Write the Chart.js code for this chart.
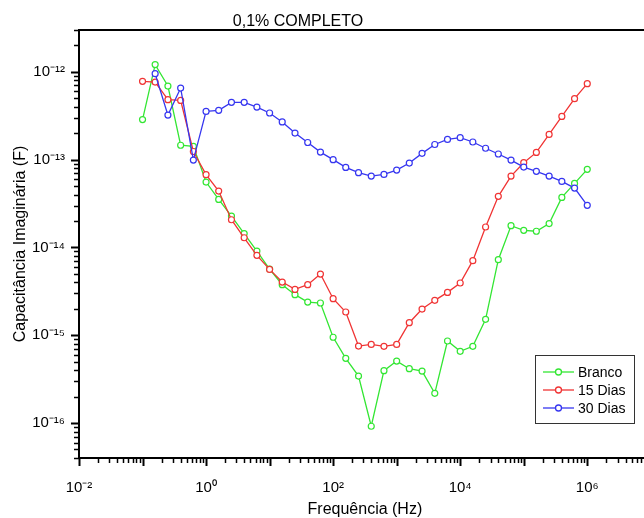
<!DOCTYPE html>
<html>
<head>
<meta charset="utf-8">
<script src="https://cdn.jsdelivr.net/npm/chart.js@4.4.0/dist/chart.umd.min.js"></script>
<style>
    html, body { margin: 0; padding: 0; background: #fff; overflow: hidden; }
    #wrap { width: 656px; height: 518px; }
</style>
</head>
<body>
<div id="wrap"><canvas id="capChart" width="656" height="518"></canvas></div>
<script>
// frequencies (Hz), 5 points per decade
const freqs = [0.1, 0.158, 0.251, 0.398, 0.631,
    1, 1.58, 2.51, 3.98, 6.31,
    10, 15.8, 25.1, 39.8, 63.1,
    100, 158, 251, 398, 631,
    1000, 1580, 2510, 3980, 6310,
    10000, 15800, 25100, 39800, 63100,
    100000, 158000, 251000, 398000, 631000,
    1000000];

const branco = [2.86e-13, 1.21e-12, 6.9e-13, 1.46e-13, 1.42e-13,
    5.56e-14, 3.53e-14, 2.28e-14, 1.44e-14, 9.1e-15,
    5.68e-15, 3.77e-15, 2.9e-15, 2.39e-15, 2.33e-15,
    9.5e-16, 5.46e-16, 3.43e-16, 9.2e-17, 3.95e-16,
    5.08e-16, 4.16e-16, 3.91e-16, 2.18e-16, 8.6e-16,
    6.56e-16, 7.48e-16, 1.52e-15, 7.26e-15, 1.77e-14,
    1.57e-14, 1.53e-14, 1.87e-14, 3.72e-14, 5.37e-14,
    7.76e-14];

const dias15 = [7.8e-13, 7.66e-13, 4.82e-13, 4.73e-13, 1.24e-13,
    6.75e-14, 4.39e-14, 2.07e-14, 1.29e-14, 8.13e-15,
    5.63e-15, 4.04e-15, 3.33e-15, 3.77e-15, 4.98e-15,
    2.61e-15, 1.84e-15, 7.53e-16, 7.87e-16, 7.48e-16,
    7.87e-16, 1.39e-15, 1.99e-15, 2.5e-15, 3.08e-15,
    3.94e-15, 7.08e-15, 1.71e-14, 3.82e-14, 6.5e-14,
    9.24e-14, 1.21e-13, 1.94e-13, 3.11e-13, 4.95e-13,
    7.35e-13];

const dias30 = [null, 9.53e-13, 3.22e-13, 6.54e-13, 9.9e-14,
    3.55e-13, 3.65e-13, 4.5e-13, 4.5e-13, 3.97e-13,
    3.4e-13, 2.69e-13, 2.01e-13, 1.57e-13, 1.22e-13,
    1.0e-13, 8.17e-14, 7.11e-14, 6.5e-14, 6.8e-14,
    7.62e-14, 9.16e-14, 1.18e-13, 1.49e-13, 1.7e-13,
    1.78e-13, 1.59e-13, 1.35e-13, 1.16e-13, 9.9e-14,
    8.24e-14, 7.36e-14, 6.5e-14, 5.66e-14, 4.75e-14,
    3.02e-14];

const seriesNames = ["Branco", "15 Dias", "30 Dias"];
const seriesColors = ["#33e633", "#f03434", "#3636f0"];

const xExponents = [-2, -1, 0, 1, 2, 3, 4, 5, 6, 7];
const yExponents = [-17, -16, -15, -14, -13, -12];

const FONT = "'Liberation Sans', Arial, sans-serif";
const SUP = { "-": "\u207B", "0": "\u2070", "1": "\u00B9", "2": "\u00B2", "3": "\u00B3", "4": "\u2074",
    "5": "\u2075", "6": "\u2076", "7": "\u2077", "8": "\u2078", "9": "\u2079" };

function powLabel(exp) {
    return "10" + String(exp).split("").map(c => SUP[c]).join("");
}

function decadeOf(v) {
    const e = Math.round(Math.log10(v));
    return Math.abs(v / Math.pow(10, e) - 1) < 1e-6 ? e : null;
}

// log ticks 1..9 for each decade, clipped to the axis range
function logTicks(exps, min, max) {
    const out = [];
    exps.forEach(e => {
        for (let m = 1; m <= 9; m++) {
            const v = m * Math.pow(10, e);
            if (v >= min * 0.999 && v <= max * 1.001) out.push({ value: v });
        }
    });
    return out;
}

function toPoints(values) {
    return values.map((v, i) => ({ x: freqs[i], y: v }));
}

const tickMarks = {
    id: "tickMarks",
    afterDraw(chart) {
        const ctx = chart.ctx;
        const area = chart.chartArea;
        const xs = chart.scales.x;
        const ys = chart.scales.y;
        ctx.save();
        ctx.strokeStyle = "#000";
        ctx.lineWidth = 2;
        ctx.beginPath();
        ctx.moveTo(area.left - 1, area.top);
        ctx.lineTo(area.right, area.top);
        ctx.stroke();

        xs.ticks.forEach(t => {
            const px = Math.round(xs.getPixelForValue(t.value)) + 0.5;
            const major = decadeOf(t.value) !== null;
            ctx.lineWidth = major ? 2 : 1.5;
            ctx.beginPath();
            ctx.moveTo(px, area.bottom);
            ctx.lineTo(px, area.bottom + (major ? 8 : 5));
            ctx.stroke();
        });
        ys.ticks.forEach(t => {
            const py = Math.round(ys.getPixelForValue(t.value)) + 0.5;
            const major = decadeOf(t.value) !== null;
            ctx.lineWidth = major ? 2 : 1.5;
            ctx.beginPath();
            ctx.moveTo(area.left, py);
            ctx.lineTo(area.left - (major ? 8 : 5), py);
            ctx.stroke();
        });
        ctx.restore();
    }
};

const titleAndLegend = {
    id: "titleAndLegend",
    afterDraw(chart) {
        const ctx = chart.ctx;
        ctx.save();
        ctx.fillStyle = "#000";
        ctx.font = "16px " + FONT;
        ctx.textAlign = "center";
        ctx.textBaseline = "alphabetic";
        ctx.fillText("0,1% COMPLETO", 298, 26);

        // legend box
        const bx = 535, by = 355, bw = 99, bh = 68;
        ctx.fillStyle = "#fff";
        ctx.fillRect(bx, by, bw, bh);
        ctx.strokeStyle = "#333";
        ctx.lineWidth = 1;
        ctx.strokeRect(bx + 0.5, by + 0.5, bw, bh);

        ctx.font = "14px " + FONT;
        ctx.textAlign = "left";
        ctx.textBaseline = "middle";
        seriesNames.forEach((name, i) => {
            const y = by + 17 + i * 18;
            ctx.strokeStyle = seriesColors[i];
            ctx.lineWidth = 1.3;
            ctx.beginPath();
            ctx.moveTo(bx + 8, y);
            ctx.lineTo(bx + 39, y);
            ctx.stroke();
            ctx.fillStyle = "#fff";
            ctx.beginPath();
            ctx.arc(bx + 23.5, y, 3, 0, Math.PI * 2);
            ctx.fill();
            ctx.stroke();
            ctx.fillStyle = "#000";
            ctx.fillText(name, bx + 43, y + 1);
        });
        ctx.restore();
    }
};

function makeDataset(label, values, color, order) {
    return {
        label: label,
        data: toPoints(values),
        borderColor: color,
        backgroundColor: color,
        borderWidth: 1.3,
        pointRadius: 3,
        pointBorderWidth: 1.2,
        pointBorderColor: color,
        pointBackgroundColor: "#fff",
        tension: 0,
        order: order
    };
}

const X_MIN = 0.01, X_MAX = 1e7;
const Y_MIN = 4e-17, Y_MAX = 3e-12;

new Chart(document.getElementById("capChart").getContext("2d"), {
    type: "line",
    data: {
        datasets: [
            makeDataset(seriesNames[0], branco, seriesColors[0], 2),
            makeDataset(seriesNames[1], dias15, seriesColors[1], 1),
            makeDataset(seriesNames[2], dias30, seriesColors[2], 0)
        ]
    },
    options: {
        responsive: false,
        animation: false,
        devicePixelRatio: 1,
        layout: { padding: { left: 0, right: 5, top: 30, bottom: 0 } },
        plugins: {
            legend: { display: false },
            tooltip: { enabled: false },
            title: { display: false }
        },
        scales: {
            x: {
                type: "logarithmic",
                min: X_MIN,
                max: X_MAX,
                afterBuildTicks: scale => { scale.ticks = logTicks(xExponents, X_MIN, X_MAX); },
                afterFit: scale => {
                    scale.height = 60;
                    scale.paddingLeft = 0;
                    scale.paddingRight = 0;
                },
                grid: { drawOnChartArea: false, tickLength: 8, tickColor: "rgba(0,0,0,0)" },
                border: { display: true, color: "#000", width: 2 },
                ticks: {
                    autoSkip: false,
                    maxRotation: 0,
                    padding: 13,
                    color: "#000",
                    font: { family: FONT, size: 15 },
                    callback: value => {
                        const e = decadeOf(value);
                        return (e !== null && e % 2 === 0) ? powLabel(e) : "";
                    }
                },
                title: {
                    display: true,
                    text: "Frequência (Hz)",
                    color: "#000",
                    font: { family: FONT, size: 16 },
                    padding: { top: 0, bottom: -1 }
                }
            },
            y: {
                type: "logarithmic",
                min: Y_MIN,
                max: Y_MAX,
                afterBuildTicks: scale => { scale.ticks = logTicks(yExponents, Y_MIN, Y_MAX); },
                afterFit: scale => {
                    scale.width = 79;
                    scale.paddingTop = 0;
                    scale.paddingBottom = 0;
                },
                grid: { drawOnChartArea: false, tickLength: 8, tickColor: "rgba(0,0,0,0)" },
                border: { display: true, color: "#000", width: 2 },
                ticks: {
                    autoSkip: false,
                    padding: 6,
                    color: "#000",
                    font: { family: FONT, size: 15 },
                    callback: value => {
                        const e = decadeOf(value);
                        return e !== null ? powLabel(e) : "";
                    }
                },
                title: {
                    display: true,
                    text: "Capacitância Imaginária (F)",
                    color: "#000",
                    font: { family: FONT, size: 16 },
                    padding: { top: 11, bottom: 4 }
                }
            }
        }
    },
    plugins: [tickMarks, titleAndLegend]
});
</script>
</body>
</html>
